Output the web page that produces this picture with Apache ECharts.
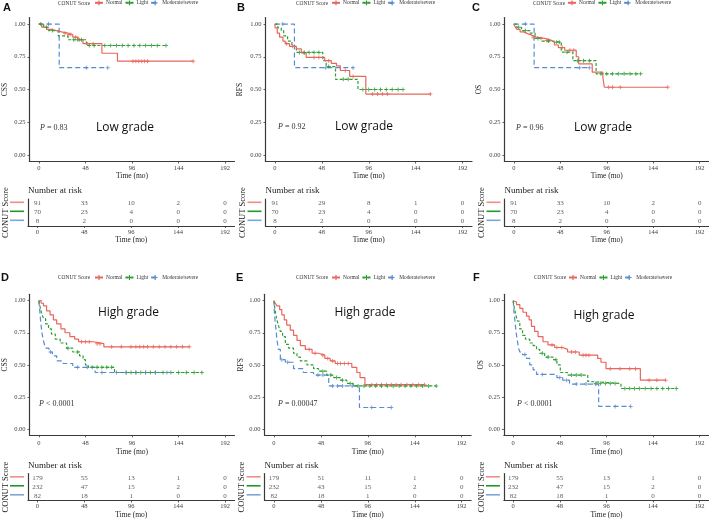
<!DOCTYPE html>
<html><head><meta charset="utf-8">
<script src="https://cdn.jsdelivr.net/npm/echarts@6/dist/echarts.min.js"></script>
<style>html,body{margin:0;padding:0;background:#fff}#c{width:709px;height:522px}</style>
</head><body><div id="c"></div>
<script>
// ---------- shared categories / ticks ----------
const timeTicks = [0, 48, 96, 144, 192];
const survTicks = [0, 0.25, 0.5, 0.75, 1];
const groups = ['Normal', 'Light', 'Moderate/severe'];
const panelLetters = ['A', 'B', 'C', 'D', 'E', 'F'];
const yNames = ['CSS', 'RFS', 'OS', 'CSS', 'RFS', 'OS'];
const gradeLabels = ['Low grade', 'Low grade', 'Low grade', 'High grade', 'High grade', 'High grade'];
const pLabels = ['= 0.83', '= 0.92', '= 0.96', '< 0.0001', '= 0.00047', '< 0.0001'];

// ---------- Panel A (Low grade, CSS) ----------
const A_Normal_time = [0, 3, 8, 13, 18, 23.5, 30, 35, 40.5, 45.5, 65, 81, 159];
const A_Normal_surv = [1, 0.977, 0.96, 0.95, 0.94, 0.93, 0.92, 0.90, 0.88, 0.85, 0.777, 0.716, 0.716];
const A_Normal_cens = [27, 31, 33, 38, 42, 50, 56, 97, 100, 103, 106, 109, 112, 159];
const A_Light_time = [0, 5, 10, 20, 30, 49, 131];
const A_Light_surv = [1, 0.975, 0.95, 0.91, 0.88, 0.836, 0.836];
const A_Light_cens = [2, 8, 14, 36, 40, 44, 52, 57, 68, 74, 80, 86, 92, 98, 104, 110, 116, 122, 131];
const A_Mod_time = [0, 21, 71];
const A_Mod_surv = [1, 0.667, 0.667];
const A_Mod_cens = [10, 49, 71];
const A_risk_Normal = [91, 33, 10, 2, 0];
const A_risk_Light = [70, 23, 4, 0, 0];
const A_risk_Mod = [8, 2, 0, 0, 0];

// ---------- Panel B (Low grade, RFS) ----------
const B_Normal_time = [0, 0.3, 2.4, 4.8, 8.2, 10.6, 15, 22, 27, 32, 51, 57.7, 63, 67, 76.5, 93, 159];
const B_Normal_surv = [1, 0.97, 0.93, 0.90, 0.87, 0.85, 0.83, 0.81, 0.78, 0.745, 0.72, 0.70, 0.68, 0.645, 0.60, 0.465, 0.465];
const B_Normal_cens = [12, 18, 30, 40, 45, 55, 72, 80, 100, 105, 110, 115, 159];
const B_Light_time = [0, 3, 6.5, 9, 13, 17.4, 22, 49, 52.5, 62, 85, 131];
const B_Light_surv = [1, 0.97, 0.95, 0.91, 0.87, 0.83, 0.783, 0.72, 0.675, 0.578, 0.50, 0.50];
const B_Light_cens = [25, 30, 35, 40, 45, 55, 70, 75, 90, 96, 102, 108, 114, 120, 126, 131];
const B_Mod_time = [0, 20, 80];
const B_Mod_surv = [1, 0.667, 0.667];
const B_Mod_cens = [8, 52, 80];
const B_risk_Normal = [91, 29, 8, 1, 0];
const B_risk_Light = [70, 23, 4, 0, 0];
const B_risk_Mod = [8, 2, 0, 0, 0];

// ---------- Panel C (Low grade, OS) ----------
const C_Normal_time = [0, 1.4, 3, 6.5, 10, 15, 18.4, 23.5, 32, 39, 42, 46, 52.6, 64.5, 67, 81, 92, 93.5, 159];
const C_Normal_surv = [1, 0.98, 0.96, 0.94, 0.925, 0.915, 0.90, 0.89, 0.875, 0.86, 0.84, 0.82, 0.80, 0.75, 0.695, 0.632, 0.59, 0.517, 0.517];
const C_Normal_cens = [20, 28, 34, 36, 50, 58, 62, 98, 102, 110, 159];
const C_Light_time = [0, 3, 8, 17, 22, 29, 40.6, 49, 61, 85, 131];
const C_Light_surv = [1, 0.975, 0.95, 0.93, 0.89, 0.87, 0.86, 0.785, 0.72, 0.62, 0.62];
const C_Light_cens = [5, 12, 25, 36, 44, 47, 55, 66, 72, 78, 90, 96, 102, 108, 114, 120, 126, 131];
const C_Mod_time = [0, 21, 78];
const C_Mod_surv = [1, 0.667, 0.667];
const C_Mod_cens = [12, 68, 78];
const C_risk_Normal = [91, 33, 10, 2, 0];
const C_risk_Light = [70, 23, 4, 0, 0];
const C_risk_Mod = [8, 2, 0, 0, 0];

// ---------- Panel D (High grade, CSS) ----------
const D_Normal_time = [0, 2.4, 4.8, 8, 11.6, 15, 18.4, 22.8, 27, 32, 37, 41, 56, 67, 155];
const D_Normal_surv = [1, 0.98, 0.96, 0.92, 0.89, 0.85, 0.82, 0.78, 0.75, 0.72, 0.70, 0.68, 0.665, 0.64, 0.64];
const D_Normal_cens = [44, 48, 52, 60, 63, 75, 85, 95, 100, 104, 108, 112, 118, 124, 130, 136, 142, 148, 155];
const D_Light_time = [0, 1.4, 3, 4.8, 7, 10, 13, 17, 22, 28.6, 35, 42, 45.6, 48, 51, 78, 168];
const D_Light_surv = [1, 0.95, 0.90, 0.86, 0.82, 0.78, 0.74, 0.70, 0.67, 0.63, 0.60, 0.57, 0.54, 0.50, 0.48, 0.44, 0.44];
const D_Light_cens = [30, 40, 55, 60, 65, 70, 75, 90, 95, 100, 105, 110, 115, 120, 128, 136, 144, 152, 160, 168];
const D_Mod_time = [0, 1, 2, 3.4, 5, 7, 10.5, 14, 18.4, 25, 35, 58, 132];
const D_Mod_surv = [1, 0.92, 0.83, 0.74, 0.68, 0.63, 0.60, 0.57, 0.53, 0.51, 0.48, 0.44, 0.44];
const D_Mod_cens = [12, 40, 50, 65, 80, 90, 100, 110, 120, 132];
const D_risk_Normal = [179, 55, 13, 1, 0];
const D_risk_Light = [232, 47, 15, 2, 0];
const D_risk_Mod = [82, 18, 1, 0, 0];

// ---------- Panel E (High grade, RFS) ----------
const E_Normal_time = [0, 1.4, 3, 5.8, 8, 10.5, 13, 16.7, 20, 23.5, 27, 32, 39, 45.6, 52, 57.5, 62.6, 79.6, 84.7, 88, 93, 154];
const E_Normal_surv = [1, 0.98, 0.96, 0.93, 0.89, 0.85, 0.81, 0.77, 0.73, 0.69, 0.65, 0.62, 0.59, 0.575, 0.55, 0.53, 0.51, 0.48, 0.44, 0.40, 0.345, 0.345];
const E_Normal_cens = [36, 42, 50, 55, 60, 65, 68, 72, 76, 100, 105, 110, 115, 120, 125, 130, 136, 142, 148, 154];
const E_Light_time = [0, 0.7, 1.7, 3, 4.8, 6.5, 8.8, 11.6, 15, 20, 23.5, 27, 33.7, 40.5, 45.6, 54, 61, 67.7, 74.5, 81, 166];
const E_Light_surv = [1, 0.95, 0.90, 0.85, 0.80, 0.76, 0.72, 0.66, 0.63, 0.59, 0.56, 0.53, 0.50, 0.47, 0.45, 0.42, 0.40, 0.38, 0.355, 0.335, 0.335];
const E_Light_cens = [50, 58, 64, 70, 78, 86, 92, 98, 104, 110, 116, 122, 128, 134, 140, 146, 152, 158, 166];
const E_Mod_time = [0, 0.3, 1, 2, 3, 4.4, 6.5, 11.6, 20, 30, 40.5, 56, 87.4, 120];
const E_Mod_surv = [1, 0.92, 0.85, 0.78, 0.70, 0.62, 0.54, 0.52, 0.47, 0.44, 0.42, 0.335, 0.167, 0.167];
const E_Mod_cens = [8, 14, 45, 50, 60, 65, 70, 80, 100, 120];
const E_risk_Normal = [179, 51, 11, 1, 0];
const E_risk_Light = [232, 43, 15, 2, 0];
const E_risk_Mod = [82, 18, 1, 0, 0];

// ---------- Panel F (High grade, OS) ----------
const F_Normal_time = [0, 1.7, 3.4, 6.8, 10, 13.7, 16.4, 18.8, 22, 25.6, 30.7, 35.8, 42.7, 51, 56, 68, 87, 90.4, 95.6, 131, 157];
const F_Normal_surv = [1, 0.99, 0.97, 0.94, 0.91, 0.88, 0.85, 0.80, 0.76, 0.72, 0.68, 0.655, 0.635, 0.62, 0.60, 0.575, 0.55, 0.52, 0.47, 0.38, 0.38];
const F_Normal_cens = [40, 45, 50, 60, 64, 72, 75, 78, 100, 110, 120, 126, 140, 148, 157];
const F_Light_time = [0, 1, 2.4, 4.4, 6.8, 9.6, 12.6, 17, 20.5, 24, 27.3, 32.4, 41, 45, 48.5, 56, 76.8, 79, 111, 168];
const F_Light_surv = [1, 0.95, 0.90, 0.84, 0.78, 0.73, 0.70, 0.67, 0.65, 0.62, 0.59, 0.56, 0.54, 0.50, 0.44, 0.42, 0.37, 0.355, 0.315, 0.315];
const F_Light_cens = [30, 36, 44, 60, 65, 70, 85, 90, 95, 100, 105, 115, 120, 125, 130, 136, 142, 148, 154, 160, 168];
const F_Mod_time = [0, 0.7, 1.7, 2.7, 4, 5.5, 6.8, 9.6, 13.7, 17, 20.5, 24, 45, 51, 58, 88, 121];
const F_Mod_surv = [1, 0.92, 0.85, 0.77, 0.70, 0.63, 0.60, 0.58, 0.55, 0.50, 0.46, 0.425, 0.40, 0.38, 0.35, 0.175, 0.175];
const F_Mod_cens = [12, 30, 48, 55, 65, 75, 85, 105, 121];
const F_risk_Normal = [179, 55, 13, 1, 0];
const F_risk_Light = [232, 47, 15, 2, 0];
const F_risk_Mod = [82, 18, 1, 0, 0];

// ---------- assemble ----------
const panels = [
  [[A_Normal_time, A_Normal_surv, A_Normal_cens, A_risk_Normal], [A_Light_time, A_Light_surv, A_Light_cens, A_risk_Light], [A_Mod_time, A_Mod_surv, A_Mod_cens, A_risk_Mod]],
  [[B_Normal_time, B_Normal_surv, B_Normal_cens, B_risk_Normal], [B_Light_time, B_Light_surv, B_Light_cens, B_risk_Light], [B_Mod_time, B_Mod_surv, B_Mod_cens, B_risk_Mod]],
  [[C_Normal_time, C_Normal_surv, C_Normal_cens, C_risk_Normal], [C_Light_time, C_Light_surv, C_Light_cens, C_risk_Light], [C_Mod_time, C_Mod_surv, C_Mod_cens, C_risk_Mod]],
  [[D_Normal_time, D_Normal_surv, D_Normal_cens, D_risk_Normal], [D_Light_time, D_Light_surv, D_Light_cens, D_risk_Light], [D_Mod_time, D_Mod_surv, D_Mod_cens, D_risk_Mod]],
  [[E_Normal_time, E_Normal_surv, E_Normal_cens, E_risk_Normal], [E_Light_time, E_Light_surv, E_Light_cens, E_risk_Light], [E_Mod_time, E_Mod_surv, E_Mod_cens, E_risk_Mod]],
  [[F_Normal_time, F_Normal_surv, F_Normal_cens, F_risk_Normal], [F_Light_time, F_Light_surv, F_Light_cens, F_risk_Light], [F_Mod_time, F_Mod_surv, F_Mod_cens, F_risk_Mod]]
];

const lineColors = ['#E8675D', '#2E9E33', '#5A8BD0'];
const tableColors = ['#EE8F87', '#1F9A2A', '#7EA6D8'];
const dashes = ['solid', [3, 2], [5, 3]];
const plusPath = 'path://M3,0H5V3H8V5H5V8H3V5H0V3H3Z';
const serif = '"Liberation Serif", "DejaVu Serif", serif';
const axisCol = '#3a3a3a';
const textCol = '#444';

// layout (pixels)
const L = [
  {left: 28,    width: 206.5, top: 17.5,  h: 144, tTop: 199,   yGap: 20.5, xGap: 9.5,  txGap: 10, lx: 3,   ly: 8,   legX: 94,  titX: 58,  legY: 3.3, grade: [125, 128], p: [40, 127.5], lab: 3, tlab: 2.5},
  {left: 265.5, width: 206.5, top: 17.5,  h: 144, tTop: 199,   yGap: 21.5, xGap: 9.5,  txGap: 10, lx: 237, ly: 8,   legX: 331, titX: 296, legY: 3.3, grade: [364, 127], p: [278, 127], lab: 3, tlab: 2.5},
  {left: 504.5, width: 204.5, top: 17.5,  h: 144, tTop: 199,   yGap: 21,   xGap: 9.5,  txGap: 10, lx: 472, ly: 8,   legX: 567, titX: 533, legY: 3.3, grade: [603, 128], p: [516, 128], lab: 3, tlab: 2.5},
  {left: 28,    width: 206.5, top: 294.3, h: 141, tTop: 473.5, yGap: 20.5, xGap: 12.6, txGap: 10.5, lx: 1, ly: 278, legX: 94,  titX: 58,  legY: 278, grade: [128.5, 313], p: [39, 404], lab: 4, tlab: 2},
  {left: 264.6, width: 206.5, top: 294.3, h: 141, tTop: 473.5, yGap: 16.6, xGap: 12.6, txGap: 10.5, lx: 236, ly: 278, legX: 331, titX: 296, legY: 278, grade: [365, 313], p: [278, 404], lab: 4, tlab: 2},
  {left: 503.9, width: 205,   top: 294.3, h: 141, tTop: 473.5, yGap: 17.4, xGap: 12.6, txGap: 10.5, lx: 473, ly: 278, legX: 568, titX: 534, legY: 278, grade: [604, 316], p: [517, 404], lab: 4, tlab: 2}
];

function survAt(times, surv, t) {
  let v = surv[0];
  for (let i = 0; i < times.length; i++) { if (times[i] <= t) v = surv[i]; }
  return v;
}

const grids = [], xAxes = [], yAxes = [], series = [], legends = [], graphics = [];

function xAxisCfg(gi, gap, lab) {
  return {
    type: 'value', gridIndex: gi, min: -9.6, max: 201.6,
    axisLine: {show: true, onZero: false, lineStyle: {color: axisCol, width: 1.2}},
    axisTick: {show: true, customValues: timeTicks, length: 2, lineStyle: {color: axisCol, width: 0.8}},
    axisLabel: {customValues: timeTicks, fontSize: 6.5, fontFamily: serif, color: textCol, margin: lab},
    splitLine: {show: false},
    name: 'Time (mo)', nameLocation: 'middle', nameGap: gap,
    nameTextStyle: {fontSize: 7.5, fontFamily: serif, color: '#222'}
  };
}

panels.forEach((panel, i) => {
  const c = L[i];
  grids.push({left: c.left, top: c.top, width: c.width, height: c.h, containLabel: false});
  xAxes.push(xAxisCfg(i, c.xGap, c.lab));
  yAxes.push({
    type: 'value', gridIndex: i, min: -0.05, max: 1.05,
    axisLine: {show: true, onZero: false, lineStyle: {color: axisCol, width: 1.2}},
    axisTick: {show: true, customValues: survTicks, length: 2, lineStyle: {color: axisCol, width: 0.8}},
    axisLabel: {customValues: survTicks, fontSize: 6.5, fontFamily: serif, color: textCol, margin: 4,
      formatter: v => Number(v).toFixed(2)},
    splitLine: {show: false},
    name: yNames[i], nameLocation: 'middle', nameGap: c.yGap,
    nameTextStyle: {fontSize: 7.5, fontFamily: serif, color: '#222'}
  });
  panel.forEach((g, k) => {
    const [times, surv, cens] = g;
    series.push({
      type: 'line', name: groups[k], xAxisIndex: i, yAxisIndex: i, step: 'end',
      data: times.map((t, j) => [t, surv[j]]),
      showSymbol: false, symbol: plusPath, symbolSize: 5,
      lineStyle: {color: lineColors[k], width: 1.2, type: dashes[k]},
      itemStyle: {color: lineColors[k]},
      silent: true, animation: false, z: 5 - k
    });
    series.push({
      type: 'scatter', name: groups[k] + ' (censored)', xAxisIndex: i, yAxisIndex: i,
      data: cens.map(t => [t, survAt(times, surv, t)]),
      symbol: plusPath, symbolSize: 4, itemStyle: {color: lineColors[k]},
      silent: true, animation: false, z: 6
    });
  });
  legends.push({
    data: groups, left: c.legX, top: c.legY - 3, padding: 0, itemGap: 2,
    itemWidth: 8, itemHeight: 6, selectedMode: false,
    textStyle: {fontSize: 5.4, fontFamily: serif, color: '#333', padding: [0, 0, 0, -2]}
  });
  graphics.push({type: 'text', x: c.titX, y: c.legY, style: {text: 'CONUT Score', font: '5.4px ' + serif, fill: '#333', verticalAlign: 'middle'}});
  graphics.push({type: 'text', x: c.lx, y: c.ly, style: {text: panelLetters[i], font: 'bold 11px "Liberation Sans", Arial, sans-serif', fill: '#111', verticalAlign: 'middle'}});
  graphics.push({type: 'text', x: c.grade[0], y: c.grade[1], style: {text: gradeLabels[i], font: '12px "Open Sans", "Noto Sans", sans-serif', fill: '#111', align: 'center', verticalAlign: 'middle'}});
  graphics.push({type: 'text', x: c.p[0], y: c.p[1], style: {text: '{i|P} ' + pLabels[i], font: '8px ' + serif, fill: '#333', verticalAlign: 'middle',
    rich: {i: {fontStyle: 'italic', fontSize: 8, fontFamily: serif}}}});
  graphics.push({type: 'text', x: c.left, y: c.tTop - 8.3, style: {text: 'Number at risk', font: '9px ' + serif, fill: '#222', verticalAlign: 'middle'}});
  // colour keys of the risk table rows (decoration, left of the table axis)
  [0, 1, 2].forEach(k => {
    const yy = c.tTop + 4.5 + 9 * k - 1.2;
    graphics.push({type: 'line', shape: {x1: c.left - 18, y1: yy, x2: c.left - 4, y2: yy},
      style: {stroke: tableColors[k], lineWidth: 1.6}});
  });
});

panels.forEach((panel, i) => {
  const c = L[i];
  const gi = 6 + i;
  grids.push({left: c.left, top: c.tTop, width: c.width, height: 27, containLabel: false});
  xAxes.push(xAxisCfg(gi, c.txGap, c.tlab));
  yAxes.push({
    type: 'category', gridIndex: gi, data: groups, inverse: true,
    axisLine: {show: true, onZero: false, lineStyle: {color: axisCol, width: 1.2}},
    axisTick: {show: false},
    axisLabel: {show: false},
    splitLine: {show: false},
    name: 'CONUT Score', nameLocation: 'middle', nameGap: 18,
    nameTextStyle: {fontSize: 8.5, fontFamily: serif, color: '#222'}
  });
  panel.forEach((g, k) => {
    const risk = g[3];
    series.push({
      type: 'scatter', name: groups[k] + ' at risk', xAxisIndex: gi, yAxisIndex: gi,
      data: timeTicks.map((t, j) => [t, k, risk[j]]),
      symbolSize: 1, itemStyle: {color: 'rgba(0,0,0,0)'},
      label: {show: true, position: 'inside', formatter: p => String(p.value[2]),
        fontSize: 7, fontFamily: serif, color: '#333'},
      silent: true, animation: false
    });
  });
});

const chart = echarts.init(document.getElementById('c'), null, {renderer: 'canvas'});
chart.setOption({
  backgroundColor: '#fff',
  animation: false,
  grid: grids, xAxis: xAxes, yAxis: yAxes,
  legend: legends, series: series, graphic: graphics
});
</script></body></html>
